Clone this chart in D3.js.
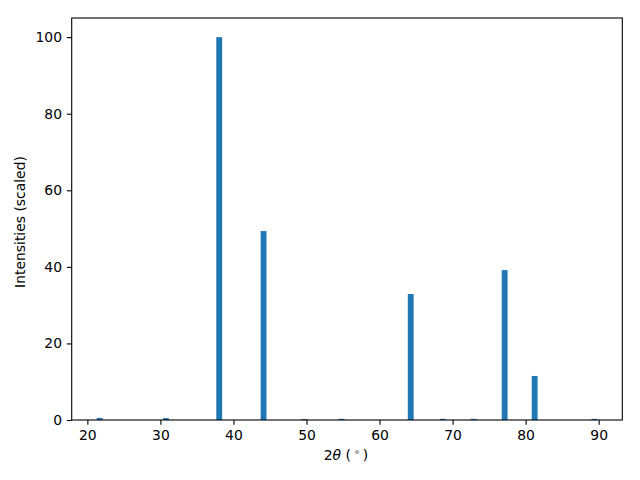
<!DOCTYPE html>
<html><head><meta charset="utf-8">
<script src="https://cdn.jsdelivr.net/npm/d3@7"></script>
<style>body{margin:0;background:#fff}svg{display:block}text{font-family:"DejaVu Sans",sans-serif;fill:#000}</style>
</head><body><svg id="c" width="640" height="480"></svg>
<script>
const twoTheta = [21.68, 30.75, 38.05, 44.12, 49.67, 54.8, 64.27, 68.67, 72.9, 77.13, 81.24, 89.41];
const intensity = [0.55, 0.5, 100, 49.35, 0.25, 0.3, 32.9, 0.3, 0.3, 39.15, 11.5, 0.3];
const xTicks = [20, 30, 40, 50, 60, 70, 80, 90];
const yTicks = [0, 20, 40, 60, 80, 100];
const barWidth = 0.8;

const svg = d3.select("#c");
const L = 71.7, R = 622.3, T = 18, B = 420;
const lo = d3.min(twoTheta) - barWidth/2, hi = d3.max(twoTheta) + barWidth/2;
const m = (hi - lo) * 0.05;
const x = d3.scaleLinear().domain([lo - m, hi + m]).range([L, R]);
const y = d3.scaleLinear().domain([0, d3.max(intensity) * 1.05]).range([B, T]);

svg.append("g").selectAll("rect").data(twoTheta).join("rect")
  .attr("x", (d) => x(d - barWidth/2))
  .attr("width", (d) => x(d + barWidth/2) - x(d - barWidth/2))
  .attr("y", (d, i) => y(intensity[i]))
  .attr("height", (d, i) => y(0) - y(intensity[i]))
  .attr("fill", "#1f77b4");

const fs = "13.9px";
const xa = svg.append("g").attr("transform", `translate(0,${B})`)
  .call(d3.axisBottom(x).tickValues(xTicks).tickSize(4.86).tickPadding(4.86).tickFormat(d3.format("d")));
const ya = svg.append("g").attr("transform", `translate(${L},0)`)
  .call(d3.axisLeft(y).tickValues(yTicks).tickSize(4.86).tickPadding(4.86).tickFormat(d3.format("d")));
[xa, ya].forEach(g => {
  g.select(".domain").remove();
  g.selectAll("line").attr("stroke", "#000").attr("stroke-width", 1.1);
  g.selectAll("text").attr("font-size", fs).attr("font-family", "DejaVu Sans").attr("fill", "#000");
});

svg.append("rect").attr("x", L).attr("y", T).attr("width", R - L).attr("height", B - T)
  .attr("fill", "none").attr("stroke", "#000").attr("stroke-width", 1.1);

const xl = svg.append("text").attr("x", (L + R) / 2 - 1).attr("y", 460).attr("text-anchor", "middle").attr("font-size", fs);
xl.append("tspan").text("2");
xl.append("tspan").attr("font-style", "italic").text("θ");
xl.append("tspan").text(" (");
xl.append("tspan").attr("font-size", "9.5px").attr("dx", 3).attr("dy", -5).text("∘");
xl.append("tspan").attr("dx", 3).attr("dy", 5).text(")");

svg.append("text").attr("transform", `translate(24.5,${(T + B) / 2 + 3}) rotate(-90)`)
  .attr("text-anchor", "middle").attr("font-size", fs).text("Intensities (scaled)");
</script></body></html>
